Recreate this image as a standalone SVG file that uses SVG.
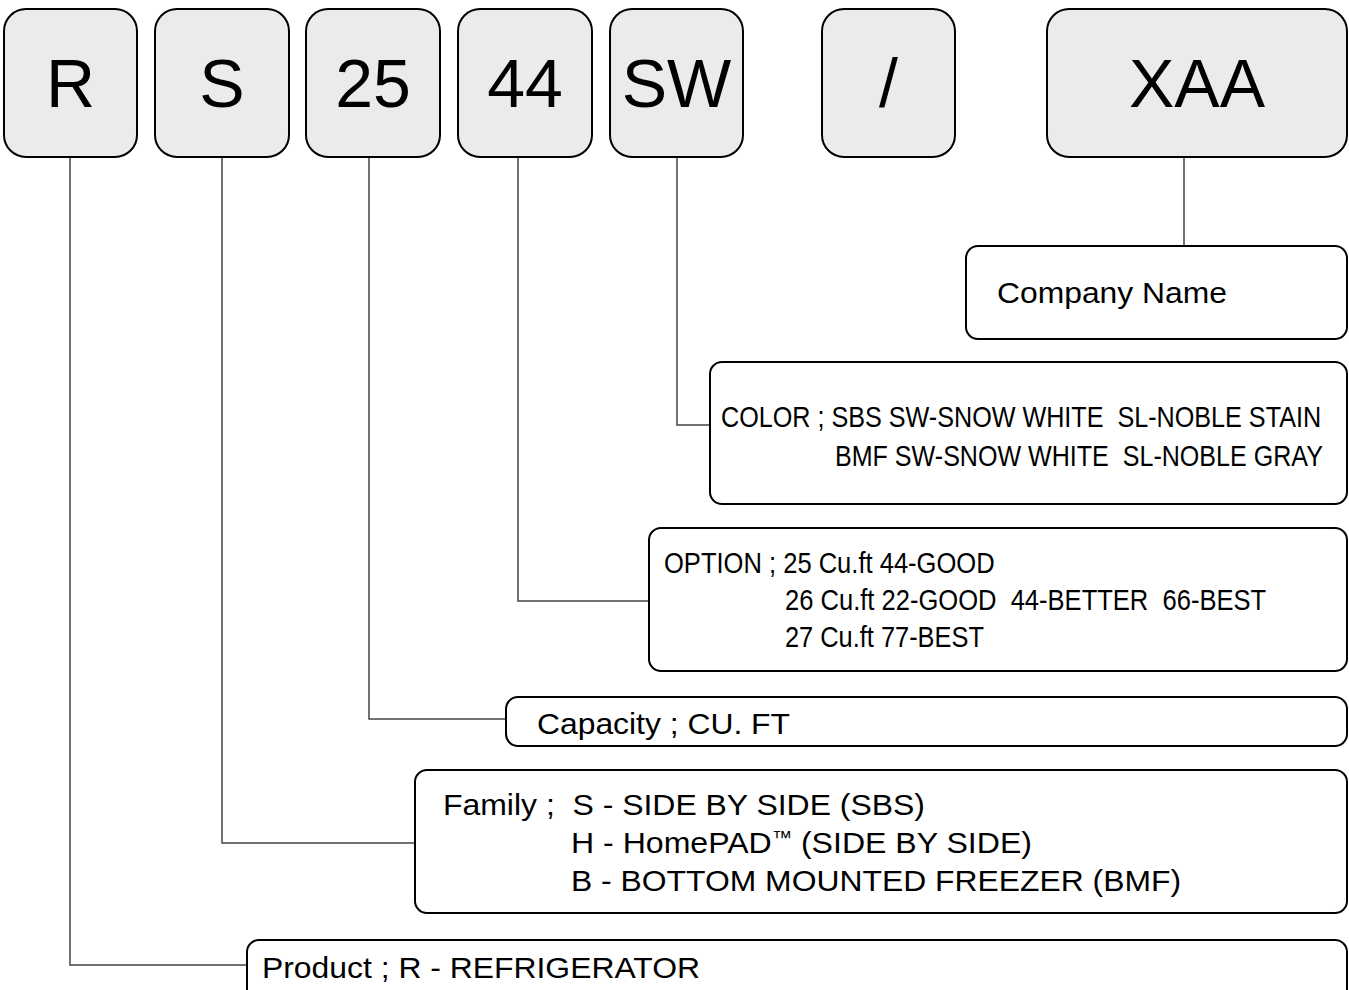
<svg xmlns="http://www.w3.org/2000/svg" width="1349" height="990" viewBox="0 0 1349 990">
<style>
.code{fill:#ebebeb;stroke:#000;stroke-width:2}
.box{fill:#fff;stroke:#000;stroke-width:2}
.big{font-family:"Liberation Sans",Arial,sans-serif;font-size:68px;fill:#000;text-anchor:middle}
.t{font-family:"Liberation Sans",Arial,sans-serif;font-size:30px;fill:#000;white-space:pre}
.n{font-family:"Liberation Sans",Arial,sans-serif;font-size:29.5px;fill:#000;white-space:pre}
.c{fill:none;stroke:#444;stroke-width:1.5}
</style>
<rect width="1349" height="990" fill="#fff"/>
<g id="connectors">
<polyline class="c" points="70,158 70,965 247,965"/>
<polyline class="c" points="222,158 222,843 415,843"/>
<polyline class="c" points="369,158 369,719 506,719"/>
<polyline class="c" points="518,158 518,601 649,601"/>
<polyline class="c" points="677,158 677,425 710,425"/>
<polyline class="c" points="1184,158 1184,245"/>
</g>
<g id="code-R"><rect class="code" x="4" y="9" width="133" height="148" rx="22"/><text class="big" x="70.5" y="107">R</text></g>
<g id="code-S"><rect class="code" x="155" y="9" width="134" height="148" rx="22"/><text class="big" x="222" y="107">S</text></g>
<g id="code-25"><rect class="code" x="306" y="9" width="134" height="148" rx="22"/><text class="big" x="373" y="107">25</text></g>
<g id="code-44"><rect class="code" x="458" y="9" width="134" height="148" rx="22"/><text class="big" x="525" y="107">44</text></g>
<g id="code-SW"><rect class="code" x="610" y="9" width="133" height="148" rx="22"/><text class="big" x="676.5" y="107">SW</text></g>
<g id="code-slash"><rect class="code" x="822" y="9" width="133" height="148" rx="22"/><text class="big" x="888.5" y="107">/</text></g>
<g id="code-XAA"><rect class="code" x="1047" y="9" width="300" height="148" rx="22"/><text class="big" x="1197" y="107">XAA</text></g>
<g id="company"><rect class="box" x="966" y="246" width="381" height="93" rx="12"/><text class="t" x="997" y="303" textLength="230" lengthAdjust="spacingAndGlyphs">Company Name</text></g>
<g id="color"><rect class="box" x="710" y="362" width="637" height="142" rx="12"/>
<text class="n" transform="translate(721,427) scale(0.85,1)" x="0" y="0" textLength="706" lengthAdjust="spacingAndGlyphs">COLOR ; SBS SW-SNOW WHITE  SL-NOBLE STAIN</text>
<text class="n" transform="translate(835,466) scale(0.85,1)" x="0" y="0" textLength="574" lengthAdjust="spacingAndGlyphs">BMF SW-SNOW WHITE  SL-NOBLE GRAY</text></g>
<g id="option"><rect class="box" x="649" y="528" width="698" height="143" rx="12"/>
<text class="n" transform="translate(664,573) scale(0.85,1)" x="0" y="0" textLength="389" lengthAdjust="spacingAndGlyphs">OPTION ; 25 Cu.ft 44-GOOD</text>
<text class="n" transform="translate(785,610) scale(0.85,1)" x="0" y="0" textLength="566" lengthAdjust="spacingAndGlyphs">26 Cu.ft 22-GOOD  44-BETTER  66-BEST</text>
<text class="n" transform="translate(785,647) scale(0.85,1)" x="0" y="0" textLength="234" lengthAdjust="spacingAndGlyphs">27 Cu.ft 77-BEST</text></g>
<g id="capacity"><rect class="box" x="506" y="697" width="841" height="49" rx="12"/>
<text class="t" x="537" y="734" textLength="253" lengthAdjust="spacingAndGlyphs">Capacity ; CU. FT</text></g>
<g id="family"><rect class="box" x="415" y="770" width="932" height="143" rx="12"/>
<text class="t" x="443" y="815" textLength="482" lengthAdjust="spacingAndGlyphs">Family ;  S - SIDE BY SIDE (SBS)</text>
<text class="t" x="571" y="853" textLength="461" lengthAdjust="spacingAndGlyphs">H - HomePAD<tspan font-size="19" dy="-9">™</tspan><tspan dy="9"> (SIDE BY SIDE)</tspan></text>
<text class="t" x="571" y="891" textLength="610" lengthAdjust="spacingAndGlyphs">B - BOTTOM MOUNTED FREEZER (BMF)</text></g>
<g id="product"><rect class="box" x="247" y="940" width="1100" height="70" rx="12"/>
<text class="t" x="262" y="978" textLength="438" lengthAdjust="spacingAndGlyphs">Product ; R - REFRIGERATOR</text></g>
</svg>
